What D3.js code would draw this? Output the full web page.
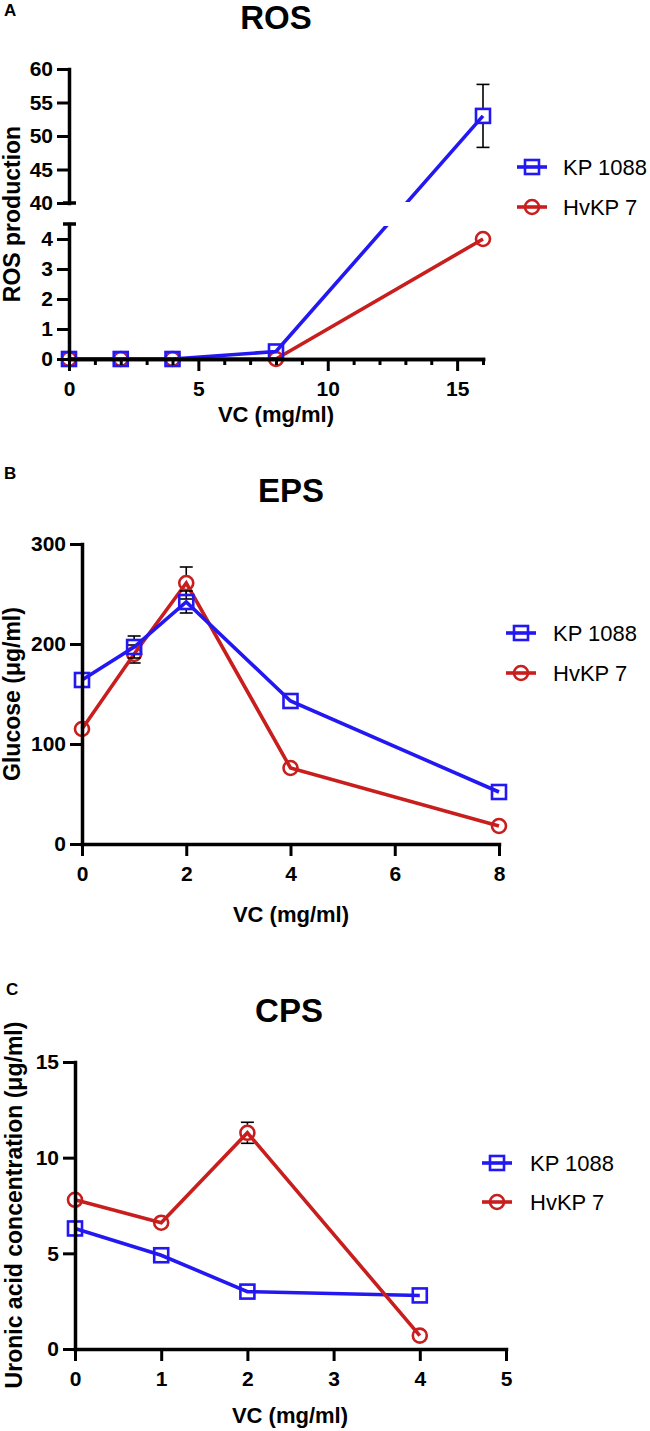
<!DOCTYPE html>
<html>
<head>
<meta charset="utf-8">
<script src="https://cdn.jsdelivr.net/npm/d3@7"></script>
<style>
  body { margin: 0; background: #fff; }
  svg { display: block; font-family: "Liberation Sans", Arial, sans-serif; }
</style>
</head>
<body>
<script>
// ---- data ----
var seriesNames = ["KP 1088", "HvKP 7"];

// A: ROS
var rosDose = [0, 2, 4, 8, 16];
var rosKP = [0, 0, 0, 0.25, 53];
var rosKPErr = [0, 0, 0, 0, 4.7];
var rosHv = [0, 0, 0, 0, 4.0];
var rosHvErr = [0, 0, 0, 0, 0];
var rosLowTicks = [0, 1, 2, 3, 4];
var rosHighTicks = [40, 45, 50, 55, 60];
var rosXMajor = [0, 5, 10, 15];
var rosXMinor = [1, 2, 3, 4, 6, 7, 8, 9, 11, 12, 13, 14, 16];

// B: EPS
var epsDose = [0, 1, 2, 4, 8];
var epsKP = [164, 197, 242, 143, 52];
var epsKPErr = [0, 11, 11, 0, 0];
var epsHv = [115, 190, 261, 76, 18];
var epsHvErr = [0, 9, 16, 0, 0];
var epsYTicks = [0, 100, 200, 300];
var epsXTicks = [0, 2, 4, 6, 8];

// C: CPS
var cpsDose = [0, 1, 2, 4];
var cpsKP = [6.3, 4.9, 3.0, 2.8];
var cpsKPErr = [0, 0, 0, 0];
var cpsHv = [7.8, 6.6, 11.3, 0.7];
var cpsHvErr = [0, 0, 0.55, 0];
var cpsYTicks = [0, 5, 10, 15];
var cpsXTicks = [0, 1, 2, 3, 4, 5];

var BLUE = "#2318f2";
var RED = "#c81e1e";

var svg = d3.select("body").append("svg")
  .attr("width", 650)
  .attr("height", 1431);

// helpers
function styleAxis(g) {
  g.attr("font-family", "Liberation Sans, Arial, sans-serif")
    .attr("font-size", 21)
    .attr("font-weight", "bold");
  g.select(".domain").attr("stroke", "#000").attr("stroke-width", 3.5).attr("stroke-linecap", "square");
  g.selectAll(".tick line").attr("stroke", "#000").attr("stroke-width", 3);
  g.selectAll(".tick text").attr("fill", "#000");
}

function xAxis(x, y0, ticks) {
  var g = svg.append("g").attr("transform", "translate(0," + y0 + ")")
    .call(d3.axisBottom(x).tickValues(ticks).tickSize(12).tickSizeOuter(0).tickPadding(10).tickFormat(d3.format("d")));
  styleAxis(g);
  return g;
}

function yAxis(y, x0, ticks) {
  var g = svg.append("g").attr("transform", "translate(" + x0 + ",0)")
    .call(d3.axisLeft(y).tickValues(ticks).tickSize(12).tickSizeOuter(0).tickPadding(4).tickFormat(d3.format("d")));
  styleAxis(g);
  return g;
}

function text(x, y, str, size, weight, anchor, rotate) {
  var t = svg.append("text")
    .attr("x", x).attr("y", y)
    .attr("font-size", size)
    .attr("font-weight", weight)
    .attr("text-anchor", anchor || "start")
    .attr("fill", "#000")
    .text(str);
  if (rotate) t.attr("transform", "rotate(-90," + x + "," + y + ")");
  return t;
}

function marker(g, cx, cy, shape, color) {
  if (shape === "square") {
    g.append("rect").attr("x", cx - 7).attr("y", cy - 7).attr("width", 14).attr("height", 14)
      .attr("fill", "none").attr("stroke", color).attr("stroke-width", 2.6);
  } else {
    g.append("circle").attr("cx", cx).attr("cy", cy).attr("r", 7)
      .attr("fill", "none").attr("stroke", color).attr("stroke-width", 2.6);
  }
}

function series(x, y, dose, vals, errs, color, shape) {
  var g = svg.append("g");
  var pts = dose.map(function (d, i) { return [d, vals[i], errs[i]]; });
  // error bars (start at symbol edge, like Prism)
  pts.forEach(function (p) {
    if (!p[2]) return;
    var cx = x(p[0]), cy = y(p[1]), top = y(p[1] + p[2]), bot = y(p[1] - p[2]);
    var eb = g.append("g").attr("stroke", "#000").attr("stroke-width", 1.6);
    eb.append("line").attr("x1", cx).attr("x2", cx).attr("y1", top).attr("y2", cy - 8);
    eb.append("line").attr("x1", cx).attr("x2", cx).attr("y1", cy + 8).attr("y2", bot);
    eb.append("line").attr("x1", cx - 6.5).attr("x2", cx + 6.5).attr("y1", top).attr("y2", top);
    eb.append("line").attr("x1", cx - 6.5).attr("x2", cx + 6.5).attr("y1", bot).attr("y2", bot);
  });
  g.append("path")
    .datum(pts)
    .attr("fill", "none")
    .attr("stroke", color)
    .attr("stroke-width", 3.6)
    .attr("d", d3.line().x(function (d) { return x(d[0]); }).y(function (d) { return y(d[1]); }));
  pts.forEach(function (p) { marker(g, x(p[0]), y(p[1]), shape, color); });
  return g;
}

function legend(cx, cy, tx, gap) {
  var shapes = ["square", "circle"], colors = [BLUE, RED];
  seriesNames.forEach(function (name, i) {
    var yy = cy + i * gap;
    svg.append("line").attr("x1", cx - 15).attr("x2", cx + 15).attr("y1", yy).attr("y2", yy)
      .attr("stroke", colors[i]).attr("stroke-width", 3.6);
    marker(svg, cx, yy, shapes[i], colors[i]);
    text(tx, yy + 8, name, "22px", "normal", "start");
  });
}

// ===== Panel A: ROS (broken y axis) =====
var xA = d3.scaleLinear().domain([0, 16]).range([69, 483]);
var yLow = d3.scaleLinear().domain([0, 4.5]).range([359, 224]);
var yHigh = d3.scaleLinear().domain([40, 60]).range([203, 69]);
function yA(v) { return v <= 4.5 ? yLow(v) : yHigh(v); }

series(xA, yA, rosDose, rosHv, rosHvErr, RED, "circle");
series(xA, yA, rosDose, rosKP, rosKPErr, BLUE, "square");
// white band for the axis break
svg.append("rect").attr("x", 74).attr("y", yHigh(40) - 1).attr("width", 420)
  .attr("height", yLow(4.5) - yHigh(40) + 3).attr("fill", "#fff");

var gAxMinor = svg.append("g").attr("transform", "translate(0,359)")
  .call(d3.axisBottom(xA).tickValues(rosXMinor).tickSize(6).tickSizeOuter(0).tickFormat(""));
styleAxis(gAxMinor);
xAxis(xA, 359, rosXMajor);
yAxis(yLow, 69, rosLowTicks);
yAxis(yHigh, 69, rosHighTicks);
// break caps
[yHigh(40), yLow(4.5)].forEach(function (yy) {
  svg.append("line").attr("x1", 63).attr("x2", 76).attr("y1", yy).attr("y2", yy)
    .attr("stroke", "#000").attr("stroke-width", 3.5);
});

text(4, 16, "A", "17px", "bold");
text(276, 29, "ROS", "33px", "bold", "middle");
text(276, 422, "VC (mg/ml)", "22px", "bold", "middle");
text(20, 214, "ROS production", "23px", "bold", "middle", true);
legend(532, 167, 563, 40);

// ===== Panel B: EPS =====
var xB = d3.scaleLinear().domain([0, 8]).range([82, 499]);
var yB = d3.scaleLinear().domain([0, 300]).range([844, 544]);
series(xB, yB, epsDose, epsHv, epsHvErr, RED, "circle");
series(xB, yB, epsDose, epsKP, epsKPErr, BLUE, "square");
xAxis(xB, 844, epsXTicks);
yAxis(yB, 82, epsYTicks);

text(4, 479, "B", "17px", "bold");
text(291, 502, "EPS", "33px", "bold", "middle");
text(291, 922, "VC (mg/ml)", "22px", "bold", "middle");
text(20, 694, "Glucose (\u03bcg/ml)", "23px", "bold", "middle", true);
legend(521, 633, 553, 40);

// ===== Panel C: CPS =====
var xC = d3.scaleLinear().domain([0, 5]).range([75, 506]);
var yC = d3.scaleLinear().domain([0, 15]).range([1349, 1062]);
series(xC, yC, cpsDose, cpsKP, cpsKPErr, BLUE, "square");
series(xC, yC, cpsDose, cpsHv, cpsHvErr, RED, "circle");
xAxis(xC, 1349, cpsXTicks);
yAxis(yC, 75, cpsYTicks);

text(6, 995, "C", "17px", "bold");
text(289, 1022, "CPS", "33px", "bold", "middle");
text(290, 1423, "VC (mg/ml)", "22px", "bold", "middle");
text(22, 1205, "Uronic acid concentration (\u03bcg/ml)", "23px", "bold", "middle", true);
legend(497, 1163, 530, 39);
</script>
</body>
</html>
